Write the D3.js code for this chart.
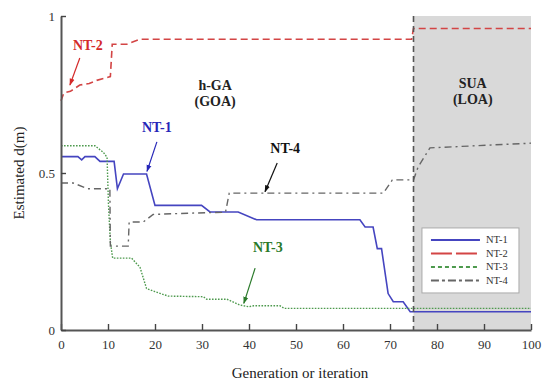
<!DOCTYPE html>
<html>
<head>
<meta charset="utf-8">
<script src="https://cdn.jsdelivr.net/npm/d3@7"></script>
<style>
  body { margin: 0; background: #fff; }
  svg { display: block; font-family: "Liberation Serif", "DejaVu Serif", serif; }
</style>
</head>
<body>
<svg id="chart"></svg>
<script>
// Data: [generation, estimated d(m)]
const nt1 = [[0,0.552],[3.6,0.552],[4.4,0.542],[5.1,0.552],[7.2,0.552],[8.3,0.537],[11.3,0.537],[12,0.45],[13.3,0.497],[18.2,0.497],[20,0.397],[29.9,0.397],[31.7,0.376],[37.7,0.376],[41.6,0.351],[63.6,0.351],[64.7,0.328],[66.4,0.328],[67.3,0.259],[68.2,0.259],[69.6,0.116],[70.7,0.09],[72.8,0.09],[74.3,0.058],[100,0.058]];
const nt2 = [[0,0.73],[0.6,0.755],[2,0.76],[4,0.78],[6,0.785],[7.6,0.795],[10,0.805],[10.5,0.807],[10.9,0.91],[14,0.91],[16.8,0.926],[74.6,0.926],[75,0.96],[100,0.96]];
const nt3 = [[0,0.587],[7.2,0.587],[9,0.566],[9.8,0.55],[10.1,0.4],[10.5,0.28],[11,0.229],[15,0.229],[16.8,0.2],[18.2,0.132],[20,0.122],[22.8,0.108],[30.3,0.106],[31,0.098],[35.3,0.098],[38,0.08],[39.9,0.074],[41,0.077],[46.6,0.077],[47.5,0.069],[100,0.069]];
const nt4 = [[0,0.468],[2.6,0.468],[5.7,0.45],[10.4,0.45],[10.5,0.267],[14.3,0.267],[14.5,0.344],[17.5,0.344],[19.6,0.368],[27,0.372],[35,0.375],[35.8,0.436],[68.6,0.436],[70.5,0.478],[75,0.478],[76,0.52],[78.5,0.58],[100,0.595]];

const seriesNames = ['NT-1', 'NT-2', 'NT-3', 'NT-4'];
const xTicks = [0, 10, 20, 30, 40, 50, 60, 70, 80, 90, 100];
const yTicks = [0, 0.5, 1];
const sua = [75, 100];   // local optimisation stage

// annotation labels: text position and arrow from/to, in data units
const labels = [
  {text: 'NT-2', x: 5.7, y: 0.893, from: [4.0, 0.866], to: [1.9, 0.78], color: '#d42a2a'},
  {text: 'NT-1', x: 20.4, y: 0.63, from: [20.4, 0.599], to: [18.3, 0.505], color: '#2626b8'},
  {text: 'NT-4', x: 47.7, y: 0.564, from: [46.0, 0.532], to: [43.4, 0.44], color: '#111'},
  {text: 'NT-3', x: 44.0, y: 0.247, from: [41.3, 0.197], to: [38.9, 0.085], color: '#2a7a2a'}
];

class StepChart {
  constructor(_config) {
    this.config = {
      parentElement: _config.parentElement,
      containerWidth: _config.containerWidth || 545,
      containerHeight: _config.containerHeight || 385,
      margin: _config.margin || {top: 16, right: 14, bottom: 55, left: 61}
    };
    this.initVis();
  }

  initVis() {
    let vis = this;
    vis.width = vis.config.containerWidth - vis.config.margin.left - vis.config.margin.right;
    vis.height = vis.config.containerHeight - vis.config.margin.top - vis.config.margin.bottom;

    vis.xScale = d3.scaleLinear().domain([0, 100]).range([0, vis.width]);
    vis.yScale = d3.scaleLinear().domain([0, 1]).range([vis.height, 0]);

    vis.styles = {
      'NT-1': {stroke: '#4545c0', dash: null, width: 1.6, legendDash: null},
      'NT-2': {stroke: '#d34545', dash: '7,4', width: 1.6, legendDash: '21,4'},
      'NT-3': {stroke: '#4e9a4e', dash: '1.6,1.4', width: 1.4, legendDash: '4,3'},
      'NT-4': {stroke: '#666', dash: '7,4,2,4', width: 1.4, legendDash: '8,3,3,3'}
    };

    vis.svg = d3.select(vis.config.parentElement)
        .attr('width', vis.config.containerWidth)
        .attr('height', vis.config.containerHeight);

    vis.chart = vis.svg.append('g')
        .attr('transform', `translate(${vis.config.margin.left},${vis.config.margin.top})`);

    vis.xAxis = d3.axisBottom(vis.xScale)
        .tickValues(xTicks)
        .tickSize(-6)
        .tickSizeOuter(0)
        .tickPadding(10);

    vis.yAxis = d3.axisLeft(vis.yScale)
        .tickValues(yTicks)
        .tickSize(-5)
        .tickSizeOuter(0)
        .tickPadding(6)
        .tickFormat(d => d);

    vis.line = d3.line()
        .x(d => vis.xScale(d[0]))
        .y(d => vis.yScale(d[1]));

    vis.svg.append('defs').append('marker')
        .attr('id', 'arrow')
        .attr('viewBox', '0 0 10 10')
        .attr('refX', 9).attr('refY', 5)
        .attr('markerWidth', 6).attr('markerHeight', 6)
        .attr('orient', 'auto')
      .append('path')
        .attr('d', 'M0,1.5L10,5L0,8.5Z')
        .attr('fill', 'context-stroke');
  }

  renderVis() {
    let vis = this;
    let xs = vis.xScale, ys = vis.yScale;

    // gray SUA region
    vis.chart.append('rect')
        .attr('x', xs(sua[0]))
        .attr('y', ys(1))
        .attr('width', xs(sua[1]) - xs(sua[0]))
        .attr('height', ys(0) - ys(1))
        .attr('fill', '#d9d9d9');

    // region labels
    const region = vis.chart.append('g')
        .attr('font-weight', 'bold')
        .attr('font-size', 14)
        .attr('text-anchor', 'middle')
        .attr('fill', '#222');
    region.append('text').attr('x', xs(32.8)).attr('y', ys(0.764)).text('h-GA');
    region.append('text').attr('x', xs(32.8)).attr('y', ys(0.712)).text('(GOA)');
    region.append('text').attr('x', xs(87.6)).attr('y', ys(0.771)).text('SUA');
    region.append('text').attr('x', xs(87.6)).attr('y', ys(0.72)).text('(LOA)');

    // series
    const all = [nt1, nt2, nt3, nt4];
    all.forEach((data, i) => {
      const st = vis.styles[seriesNames[i]];
      vis.chart.append('path')
          .datum(data)
          .attr('fill', 'none')
          .attr('stroke', st.stroke)
          .attr('stroke-width', st.width)
          .attr('stroke-dasharray', st.dash)
          .attr('d', vis.line);
    });

    // stage boundary
    vis.chart.append('line')
        .attr('x1', xs(sua[0])).attr('x2', xs(sua[0]))
        .attr('y1', ys(1)).attr('y2', ys(0))
        .attr('stroke', '#555')
        .attr('stroke-width', 1.6)
        .attr('stroke-dasharray', '6,4');

    // axes
    vis.chart.append('g')
        .attr('class', 'axis x-axis')
        .attr('transform', `translate(0,${vis.height})`)
        .call(vis.xAxis);
    vis.chart.append('g')
        .attr('class', 'axis y-axis')
        .call(vis.yAxis);

    vis.chart.selectAll('.axis .domain').attr('stroke', '#555').attr('stroke-width', 2);
    vis.chart.selectAll('.axis .tick line').attr('stroke', '#444').attr('stroke-width', 1.4);
    vis.chart.selectAll('.axis text')
        .attr('font-family', '"Liberation Serif", serif')
        .attr('font-size', 13)
        .attr('fill', '#333');

    // annotations
    labels.forEach(l => {
      vis.chart.append('text')
          .attr('x', xs(l.x)).attr('y', ys(l.y))
          .attr('text-anchor', 'middle')
          .attr('font-weight', 'bold')
          .attr('font-size', 14)
          .attr('fill', l.color)
          .text(l.text);
      vis.chart.append('line')
          .attr('x1', xs(l.from[0])).attr('y1', ys(l.from[1]))
          .attr('x2', xs(l.to[0])).attr('y2', ys(l.to[1]))
          .attr('stroke', l.color)
          .attr('stroke-width', 1.2)
          .attr('marker-end', 'url(#arrow)');
    });

    // legend
    const lg = vis.chart.append('g')
        .attr('transform', `translate(${xs(76.8)},${ys(0.325)})`);
    lg.append('rect')
        .attr('width', 97).attr('height', 65)
        .attr('fill', '#fff')
        .attr('stroke', '#aaa')
        .attr('stroke-width', 1);
    seriesNames.forEach((name, i) => {
      const st = vis.styles[name];
      const yy = 12 + i * 13.5;
      lg.append('line')
          .attr('x1', 9).attr('x2', 58)
          .attr('y1', yy).attr('y2', yy)
          .attr('stroke', st.stroke)
          .attr('stroke-width', 2)
          .attr('stroke-dasharray', st.legendDash);
      lg.append('text')
          .attr('x', 64).attr('y', yy + 3.5)
          .attr('font-size', 10.5)
          .attr('fill', '#333')
          .text(name);
    });

    // axis titles
    vis.svg.append('text')
        .attr('x', vis.config.margin.left + vis.width / 2 + 4)
        .attr('y', 378)
        .attr('text-anchor', 'middle')
        .attr('font-size', 15)
        .attr('fill', '#222')
        .text('Generation or iteration');
    vis.svg.append('text')
        .attr('transform', `translate(24,${vis.config.margin.top + vis.height / 2}) rotate(-90)`)
        .attr('text-anchor', 'middle')
        .attr('font-size', 15)
        .attr('fill', '#222')
        .text('Estimated d(m)');
  }
}

const chart = new StepChart({parentElement: '#chart'});
chart.renderVis();
</script>
</body>
</html>
